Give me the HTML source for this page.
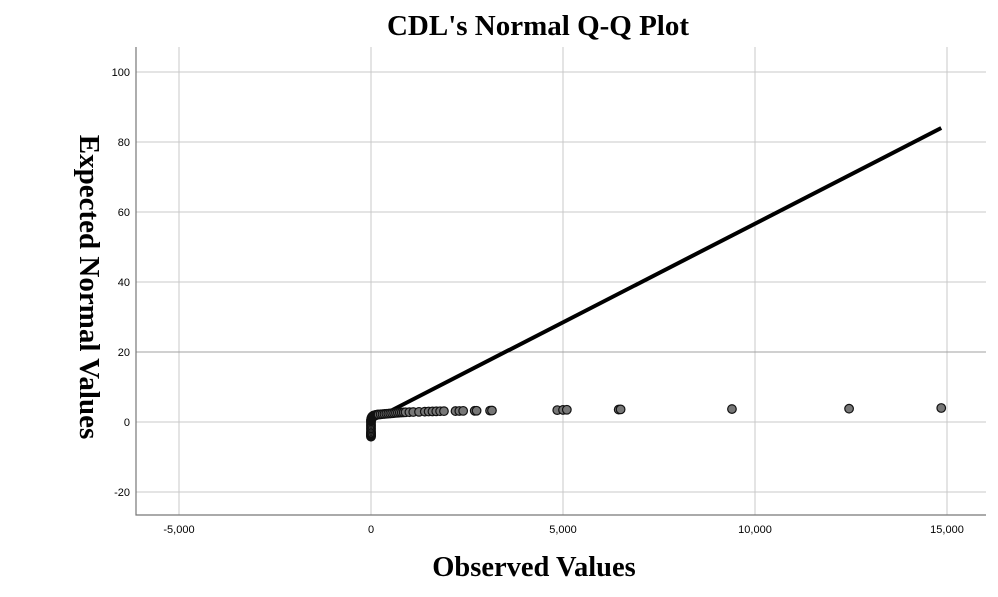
<!DOCTYPE html>
<html><head><meta charset="utf-8"><style>
body{margin:0;background:#fff;width:998px;height:592px;overflow:hidden}
svg text{font-family:"Liberation Sans",sans-serif}
</style></head><body>
<svg width="998" height="592" xmlns="http://www.w3.org/2000/svg">
<text x="538" y="35" text-anchor="middle" style="font-family:'Liberation Serif',serif;font-weight:bold;font-size:29px">CDL's Normal Q-Q Plot</text>
<text x="534" y="576" text-anchor="middle" style="font-family:'Liberation Serif',serif;font-weight:bold;font-size:28.5px">Observed Values</text>
<text transform="translate(80,287) rotate(90)" text-anchor="middle" style="font-family:'Liberation Serif',serif;font-weight:bold;font-size:29px">Expected Normal Values</text>
<g id="grid"></g><g id="axes"></g><g id="marks"></g>
</svg>
<script>
const xTicks=[-5000,0,5000,10000,15000];
const xTickLabels=["-5,000","0","5,000","10,000","15,000"];
const yTicks=[-20,0,20,40,60,80,100];
const yTickLabels=["-20","0","20","40","60","80","100"];
const lineStart=[0,0.3];
const lineEnd=[14850,84];
const obsValues=[0,0,0,0,0,0,0,0,0,0,0,0,0,0,0,0,5,8,10,15,20,25,30,40,50,60,80,100,120,140,160,180,200,250,300,350,400,450,500,550,600,650,700,750,800,850,900,1000,1100,1250,1400,1500,1600,1700,1800,1900,2200,2300,2400,2700,2750,3100,3150,4850,5000,5100,6450,6500,9400,12450,14850];
const expValues=[-4.2,-4,-3.8,-3.6,-3.4,-3.2,-3,-2.6,-2.2,-1.8,-1.4,-1,-0.6,-0.2,0.2,0.5,0.7,0.9,1,1.2,1.3,1.4,1.5,1.6,1.7,1.8,1.9,1.95,2,2.05,2.1,2.12,2.15,2.2,2.25,2.3,2.35,2.4,2.45,2.5,2.55,2.6,2.65,2.7,2.72,2.75,2.78,2.8,2.85,2.9,2.95,3,3.02,3.05,3.08,3.1,3.12,3.15,3.18,3.2,3.22,3.25,3.28,3.4,3.45,3.5,3.55,3.6,3.7,3.8,4];
const L=136,R=986,T=47,B=515;
const xs=v=>371+(v/5000)*192;
const ys=v=>422-v*3.5;
const NS="http://www.w3.org/2000/svg";
function mk(p,t,a){const e=document.createElementNS(NS,t);for(const k in a)e.setAttribute(k,a[k]);p.appendChild(e);return e;}
const grid=document.getElementById('grid'),axes=document.getElementById('axes'),marks=document.getElementById('marks');
xTicks.forEach((t,i)=>{
 const l=mk(grid,'line',{x1:xs(t),x2:xs(t),y1:T,y2:B,stroke:'#c8c8c8','stroke-width':1});
 
 
 const tx=mk(axes,'text',{x:xs(t),y:533,'text-anchor':'middle','font-size':11});
 tx.textContent=xTickLabels[i];
 
 
});
yTicks.forEach((t,i)=>{
 const l=mk(grid,'line',{x1:L,x2:R,y1:ys(t),y2:ys(t),stroke:t===20?'#a0a0a0':'#c8c8c8','stroke-width':1});
 
 
 const tx=mk(axes,'text',{x:130,y:ys(t)+4,'text-anchor':'end','font-size':11});
 tx.textContent=yTickLabels[i];
 
 
});
const ax=mk(axes,'path',{d:`M${L},${T} V${B} H${R}`,fill:'none',stroke:'#777','stroke-width':1.2});


const rl=mk(marks,'line',{x1:xs(lineStart[0]),y1:ys(lineStart[1]),x2:xs(lineEnd[0]),y2:ys(lineEnd[1]),stroke:'#000','stroke-width':4});


obsValues.forEach((v,i)=>{
 const c=mk(marks,'circle',{cx:xs(v),cy:ys(expValues[i]),r:4.3,fill:'#777',stroke:'#111','stroke-width':1.2});
 
 
});
</script>
</body></html>
